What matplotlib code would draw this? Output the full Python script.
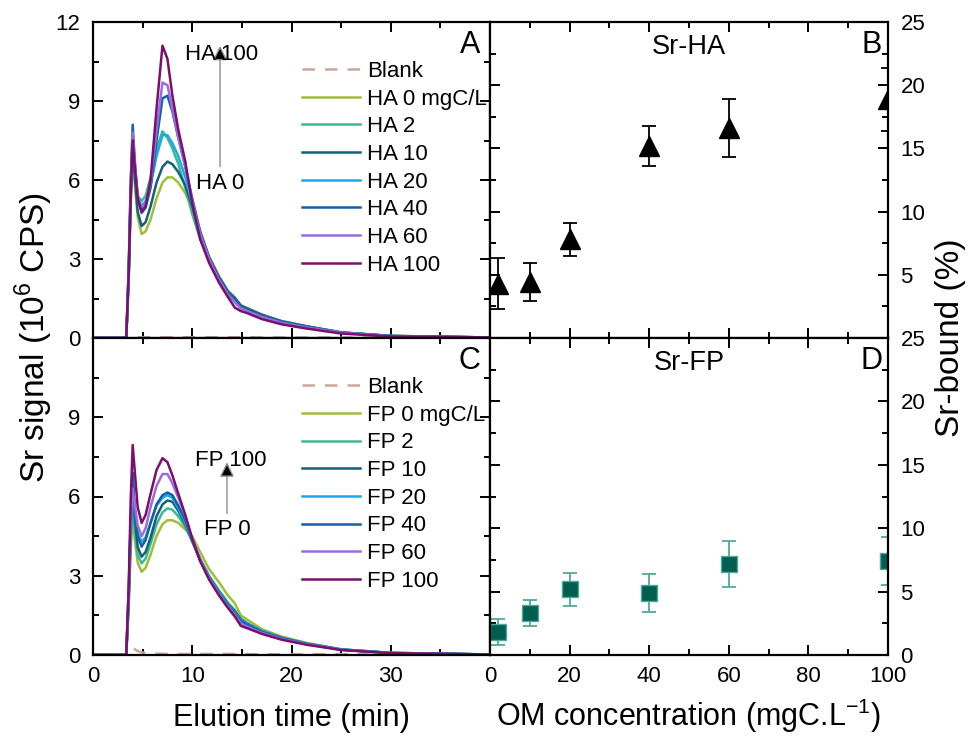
import numpy as np
import matplotlib
matplotlib.use("Agg")
import matplotlib.pyplot as plt

plt.rcParams["font.family"] = ["Liberation Sans", "DejaVu Sans"]
plt.rcParams["mathtext.fontset"] = "custom"
plt.rcParams["mathtext.rm"] = "Liberation Sans"

# elution time grid (min) shared by all fractograms
t = [0, 3.35, 3.6, 3.8, 4.0, 4.2, 4.5, 4.9, 5.3, 5.8, 6.4, 7.0, 7.5, 8.0, 8.6,
     9.3, 10.0, 10.8, 11.7, 12.7, 13.6, 14.3, 14.9, 15.5, 17.0, 19.0, 21.5,
     25.0, 30.0, 40.0]

# Sr signal, 10^6 CPS -- humic acid series
blank_ha = [0, 0, 0.03, 0.05, 0.05, 0.04, 0.03, 0.03, 0.03, 0.03, 0.03, 0.03, 0.03, 0.03, 0.03,
            0.03, 0.03, 0.03, 0.03, 0.03, 0.03, 0.03, 0.03, 0.03, 0.02, 0.02, 0.02, 0.02, 0.02, 0.02]
ha_0 = [0, 0, 2.2, 5.0, 6.8, 5.9, 4.6, 3.95, 4.05, 4.5, 5.3, 5.9, 6.1, 6.1, 5.9,
        5.5, 4.9, 4.0, 3.1, 2.35, 1.8, 1.55, 1.25, 1.15, 0.9, 0.65, 0.45, 0.22, 0.08, 0.02]
ha_2 = [0, 0, 2.3, 5.2, 7.0, 6.3, 5.4, 5.2, 5.4, 6.1, 7.2, 7.85, 7.6, 7.2, 6.6,
        5.7, 4.7, 3.75, 2.9, 2.15, 1.65, 1.4, 1.15, 1.05, 0.82, 0.6, 0.42, 0.2, 0.07, 0.02]
ha_10 = [0, 0, 2.4, 5.4, 7.3, 6.2, 4.8, 4.25, 4.4, 5.0, 5.9, 6.5, 6.7, 6.6, 6.3,
         5.8, 5.0, 4.0, 3.05, 2.3, 1.75, 1.5, 1.22, 1.12, 0.88, 0.63, 0.44, 0.21, 0.08, 0.02]
ha_20 = [0, 0, 2.5, 5.6, 7.6, 6.6, 5.4, 5.0, 5.2, 5.8, 6.9, 7.7, 7.7, 7.4, 6.9,
         6.1, 5.1, 4.0, 3.0, 2.25, 1.7, 1.45, 1.2, 1.1, 0.85, 0.62, 0.43, 0.21, 0.07, 0.02]
ha_40 = [0, 0, 2.7, 6.0, 8.1, 6.8, 5.3, 4.75, 4.95, 5.7, 7.5, 9.1, 9.2, 8.6, 7.6,
         6.5, 5.3, 4.05, 3.05, 2.3, 1.75, 1.5, 1.22, 1.12, 0.87, 0.63, 0.44, 0.21, 0.08, 0.02]
ha_60 = [0, 0, 2.6, 5.8, 7.8, 6.7, 5.4, 4.9, 5.1, 5.9, 7.9, 9.7, 9.6, 8.7, 7.6,
         6.5, 5.2, 3.95, 3.0, 2.2, 1.65, 1.35, 1.12, 1.03, 0.8, 0.58, 0.4, 0.2, 0.07, 0.02]
ha_100 = [0, 0, 2.5, 5.5, 7.5, 6.5, 5.3, 4.8, 5.0, 6.0, 8.7, 11.1, 10.6, 9.2, 7.9,
          6.7, 5.1, 3.75, 2.85, 2.1, 1.55, 1.15, 1.02, 0.95, 0.72, 0.52, 0.36, 0.17, 0.06, 0.02]

# Sr signal, 10^6 CPS -- fulvic (FP) series
blank_fp = [0, 0, 0.1, 0.25, 0.28, 0.22, 0.15, 0.1, 0.08, 0.06, 0.05, 0.05, 0.04, 0.04, 0.04,
            0.04, 0.04, 0.04, 0.04, 0.04, 0.04, 0.04, 0.03, 0.03, 0.03, 0.03, 0.03, 0.03, 0.02, 0.02]
fp_0 = [0, 0, 1.8, 4.0, 5.3, 4.4, 3.5, 3.15, 3.3, 3.8, 4.5, 4.95, 5.1, 5.1, 5.0,
        4.75, 4.5, 3.9, 3.25, 2.75, 2.25, 1.95, 1.5, 1.35, 0.98, 0.7, 0.46, 0.22, 0.08, 0.02]
fp_2 = [0, 0, 2.0, 4.3, 5.6, 4.7, 3.8, 3.47, 3.65, 4.2, 4.95, 5.4, 5.55, 5.5, 5.25,
        4.85, 4.3, 3.65, 3.0, 2.45, 1.98, 1.7, 1.38, 1.22, 0.92, 0.66, 0.44, 0.21, 0.08, 0.02]
fp_10 = [0, 0, 2.2, 4.8, 6.4, 5.2, 4.1, 3.72, 3.9, 4.45, 5.25, 5.7, 5.85, 5.8, 5.45,
         4.95, 4.3, 3.6, 2.95, 2.38, 1.92, 1.64, 1.34, 1.19, 0.9, 0.65, 0.43, 0.21, 0.08, 0.02]
fp_20 = [0, 0, 2.3, 5.0, 6.5, 5.5, 4.6, 4.29, 4.45, 5.0, 5.65, 5.95, 6.05, 5.95, 5.55,
         5.0, 4.3, 3.58, 2.92, 2.34, 1.88, 1.6, 1.31, 1.17, 0.9, 0.65, 0.43, 0.21, 0.08, 0.02]
fp_40 = [0, 0, 2.5, 5.2, 6.9, 5.6, 4.5, 4.1, 4.35, 5.0, 5.7, 6.05, 6.15, 6.05, 5.65,
         5.1, 4.35, 3.58, 2.9, 2.3, 1.85, 1.57, 1.28, 1.15, 0.88, 0.64, 0.42, 0.2, 0.07, 0.02]
fp_60 = [0, 0, 2.4, 5.0, 6.3, 5.7, 4.9, 4.5, 4.8, 5.6, 6.4, 6.85, 6.85, 6.5, 5.95,
         5.25, 4.4, 3.6, 2.9, 2.28, 1.82, 1.52, 1.2, 1.08, 0.84, 0.61, 0.41, 0.2, 0.07, 0.02]
fp_100 = [0, 0, 2.6, 5.9, 7.95, 7.0, 5.6, 5.0, 5.3, 6.1, 7.0, 7.45, 7.3, 6.8, 6.1,
          5.3, 4.4, 3.55, 2.85, 2.25, 1.78, 1.45, 1.1, 1.02, 0.8, 0.58, 0.39, 0.19, 0.07, 0.02]

# Sr-bound (%) vs OM concentration (mgC/L)
om_conc = [2, 10, 20, 40, 60, 100]
srha_bound = [4.3, 4.4, 7.8, 15.2, 16.6, 18.9]
srha_err = [2.0, 1.5, 1.3, 1.6, 2.3, 2.5]
srfp_bound = [1.8, 3.3, 5.2, 4.9, 7.2, 7.4]
srfp_err = [1.0, 1.0, 1.3, 1.5, 1.8, 1.9]

ha_curves = [ha_0, ha_2, ha_10, ha_20, ha_40, ha_60, ha_100]
fp_curves = [fp_0, fp_2, fp_10, fp_20, fp_40, fp_60, fp_100]
conc_labels = ["0 mgC/L", "2", "10", "20", "40", "60", "100"]
colors = ["#9fbf3b", "#3dba8b", "#14607a", "#1ba9ec", "#1360a8", "#9a6ce0", "#7a0f6e"]
blank_color = "#c9a899"

fig = plt.figure(figsize=(9.75, 7.36), dpi=100)
W, H = 975, 736


def px_axes(x0, y0, x1, y1):
    return fig.add_axes([x0 / W, 1 - y1 / H, (x1 - x0) / W, (y1 - y0) / H])


axA = px_axes(93, 22, 490, 338)
axC = px_axes(93, 338, 490, 655)
axB = px_axes(490, 22, 888, 338)
axD = px_axes(490, 338, 888, 655)

TICK_FS = 16
XLAB_FS = 22
YLAB_FS = 24


def style(ax):
    for s in ax.spines.values():
        s.set_linewidth(1.6)
    ax.tick_params(which="both", direction="in", top=True, bottom=True,
                   left=True, right=True, width=1.4, labelsize=TICK_FS)
    ax.tick_params(which="major", length=7)
    ax.tick_params(which="minor", length=4)
    ax.tick_params(axis="x", which="major", pad=8)
    ax.tick_params(axis="y", which="major", pad=9)


def chrom(ax, blank, curves, prefix, lab):
    ax.plot(t, blank, color=blank_color, lw=1.8, ls=(0, (5, 4)), label="Blank")
    for y, c, l in zip(curves, colors, conc_labels):
        ax.plot(t, y, color=c, lw=1.8, label=f"{prefix} {l}")
    ax.set_xlim(0, 40)
    ax.set_ylim(0, 12)
    ax.set_xticks([0, 10, 20, 30, 40])
    ax.set_xticks(np.arange(0, 41, 5), minor=True)
    ax.set_yticks([0, 3, 6, 9, 12])
    ax.set_yticks(np.arange(0, 12.1, 1.5), minor=True)
    style(ax)
    ax.legend(loc="upper left", bbox_to_anchor=(0.505, 0.905), frameon=False,
              fontsize=16, handlelength=2.6, handletextpad=0.3, labelspacing=0.3,
              borderaxespad=0)
    ax.text(0.975, 0.975, lab, transform=ax.transAxes, ha="right", va="top", fontsize=22)


chrom(axA, blank_ha, ha_curves, "HA", "A")
chrom(axC, blank_fp, fp_curves, "FP", "C")

arrow = dict(arrowstyle="-|>", ec="0.55", fc="black", lw=1.0, mutation_scale=22)
axA.annotate("", xy=(12.8, 11.2), xytext=(12.8, 6.4), arrowprops=arrow)
axA.text(13.0, 10.75, "HA 100", ha="center", va="center", fontsize=16)
axA.text(12.8, 5.85, "HA 0", ha="center", va="center", fontsize=16)
axC.annotate("", xy=(13.5, 7.4), xytext=(13.5, 5.25), arrowprops=arrow)
axC.text(13.85, 7.35, "FP 100", ha="center", va="center", fontsize=16)
axC.text(13.5, 4.75, "FP 0", ha="center", va="center", fontsize=16)

axA.tick_params(labelbottom=False)
axC.set_xticklabels(["0", "10", "20", "30", ""])
axC.set_yticklabels(["0", "3", "6", "9", ""])


def bound(ax, y, err, marker, mcolor, ecolor, title, lab, mec):
    ax.errorbar(om_conc, y, yerr=err, fmt=marker, ms=15 if marker == "^" else 11.5,
                color=mcolor, mec=mec, ecolor=ecolor, elinewidth=1.3, capsize=5,
                capthick=1.3)
    ax.set_xlim(0, 100)
    ax.set_ylim(0, 25)
    ax.set_xticks(np.arange(0, 101, 20))
    ax.set_xticks(np.arange(0, 101, 10), minor=True)
    ax.set_yticks(np.arange(0, 26, 5))
    ax.set_yticks(np.arange(0, 25.1, 2.5), minor=True)
    style(ax)
    ax.tick_params(labelleft=False, labelright=True)
    ax.text(0.5, 0.92, title, transform=ax.transAxes, ha="center", va="center", fontsize=19.5)
    ax.text(0.985, 0.975, lab, transform=ax.transAxes, ha="right", va="top", fontsize=22)


bound(axB, srha_bound, srha_err, "^", "black", "black", "Sr-HA", "B", "black")
bound(axD, srfp_bound, srfp_err, "s", "#005e50", "#4fa99b", "Sr-FP", "D", "#4fa99b")
axB.tick_params(labelbottom=False)
axB.set_yticklabels(["", "5", "10", "15", "20", "25"])

# axis titles placed on a common baseline
base_y = 1 - 726 / H
fig.text(291 / W, base_y, "Elution time (min)", ha="center", va="baseline", fontsize=XLAB_FS)
fig.text(689 / W, base_y, "OM concentration (mgC.L$^{-1}$)", ha="center", va="baseline",
         fontsize=XLAB_FS)
fig.text(0.035, 1 - 338 / H, "Sr signal (10$^6$ CPS)", rotation=90,
         ha="center", va="center", fontsize=YLAB_FS)
fig.text(0.975, 1 - 338 / H, "Sr-bound (%)", rotation=90,
         ha="center", va="center", fontsize=YLAB_FS)

fig.savefig("out.png", dpi=100)
